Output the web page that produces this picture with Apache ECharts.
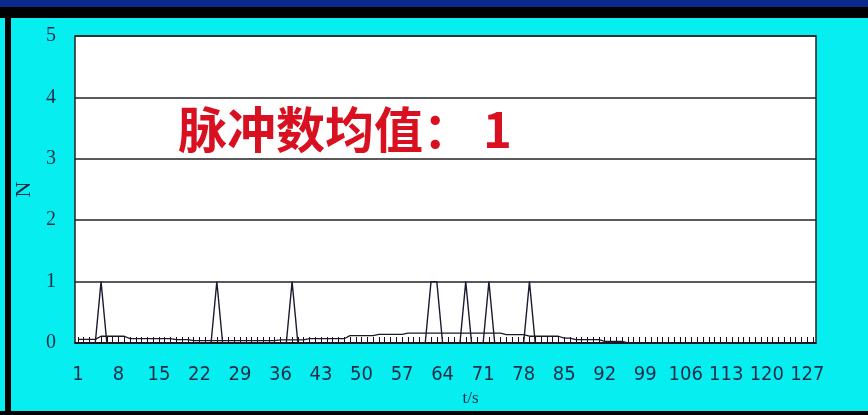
<!DOCTYPE html>
<html><head><meta charset="utf-8">
<script src="https://cdn.jsdelivr.net/npm/echarts@6/dist/echarts.min.js"></script>
<style>html,body{margin:0;padding:0;background:#06eef0;}#c{width:868px;height:415px;}</style>
</head><body><div id="c"></div>
<script>
// categories 1..128 (t/s); labels shown every 7th
const categories = Array.from({length:128}, (_, i) => String(i + 1));
// pulse events (N = 1) at these seconds, 0 elsewhere
const pulseTimes = [5, 25, 38, 62, 63, 68, 72, 79];
// running mean curve, seconds 1..127
const meanValues = [
  0.06,0.06,0.06,0.06,
  0.11,0.11,0.11,0.11,0.11,
  0.07,0.07,0.07,0.07,0.07,0.07,0.07,0.07,
  0.055,0.055,0.055,
  0.04,0.04,0.04,0.04,0.04,0.04,0.04,0.04,0.04,0.04,0.04,0.04,0.04,0.04,0.04,
  0.05,0.05,0.05,0.05,0.05,
  0.07,0.07,0.07,0.07,0.07,0.07,0.07,
  0.12,0.12,0.12,0.12,0.12,
  0.14,0.14,0.14,0.14,0.14,
  0.16,0.16,0.16,0.16,0.16,0.16,0.16,0.16,0.16,0.16,0.16,0.16,0.16,0.16,0.16,0.16,0.16,
  0.135,0.135,0.135,0.135,
  0.11,0.11,0.11,0.11,0.11,0.11,
  0.08,0.08,
  0.055,0.055,0.055,0.055,0.055,
  0.025,0.025,0.025,0.025,
  0,0,0,0,0,0,0,0,0,0,0,0,0,0,0,0,0,0,0,0,0,0,0,0,0,0,0,0,0,0,0,0
];
const yTicks = [0, 1, 2, 3, 4, 5];
const titleText = '脉冲数均值： 1';

const pulseValues = categories.slice(0, 127).map(c => pulseTimes.indexOf(Number(c)) >= 0 ? 1 : 0);

const chart = echarts.init(document.getElementById('c'), null, {renderer: 'canvas'});
chart.setOption({
  animation: false,
  backgroundColor: '#06eef0',
  title: {
    text: titleText, left: 173, top: 100,
    textStyle: {color: '#d81020', fontSize: 49, fontWeight: 'bold', fontFamily: '"Noto Sans CJK SC", sans-serif'}
  },
  graphic: [
    {type: 'rect', shape: {x: 0, y: 0, width: 868, height: 7}, style: {fill: '#0a2a8c'}, z: 100},
    {type: 'rect', shape: {x: 0, y: 7, width: 868, height: 11}, style: {fill: '#000'}, z: 100},
    {type: 'rect', shape: {x: 5, y: 18, width: 6, height: 395}, style: {fill: '#000'}, z: 100},
    {type: 'rect', shape: {x: 0, y: 411, width: 868, height: 4}, style: {fill: '#000'}, z: 100}
  ],
  grid: {left: 75, top: 36, right: 52, bottom: 72, show: true, backgroundColor: '#fff', borderColor: '#222', borderWidth: 1.5},
  xAxis: {
    type: 'category', data: categories, boundaryGap: true,
    name: 't/s', nameLocation: 'middle', nameGap: 38,
    nameTextStyle: {color: '#1c2c48', fontSize: 17, fontFamily: '"Liberation Serif", serif', padding: [0, 0, 0, 50]},
    axisLine: {show: true, lineStyle: {color: '#111', width: 1.5}},
    axisTick: {show: true, inside: true, length: 6, interval: 0, alignWithLabel: true, lineStyle: {color: '#111', width: 1}},
    axisLabel: {interval: 6, margin: 22, color: '#1c2c48', fontSize: 20, fontFamily: '"Liberation Sans Narrow", "DejaVu Sans Condensed", sans-serif'},
    splitLine: {show: false}
  },
  yAxis: {
    type: 'value', min: 0, max: 5, interval: 1,
    name: 'N', nameLocation: 'middle', nameGap: 35, nameRotate: 90,
    nameTextStyle: {color: '#1c2c48', fontSize: 22, fontFamily: '"Liberation Serif", serif'},
    axisLine: {show: false}, axisTick: {show: false},
    axisLabel: {margin: 19, color: '#1c2c48', fontSize: 20, fontFamily: '"Liberation Serif", serif',
      formatter: v => yTicks.indexOf(v) >= 0 ? String(v) : ''},
    splitLine: {show: true, lineStyle: {color: '#222', width: 1.5}}
  },
  series: [
    {type: 'line', data: meanValues, symbol: 'none', lineStyle: {color: '#1a1a2a', width: 1.3}, z: 3},
    {type: 'line', data: pulseValues, symbol: 'none', lineStyle: {color: '#1a1a30', width: 1.4}, z: 4}
  ]
});
</script></body></html>
